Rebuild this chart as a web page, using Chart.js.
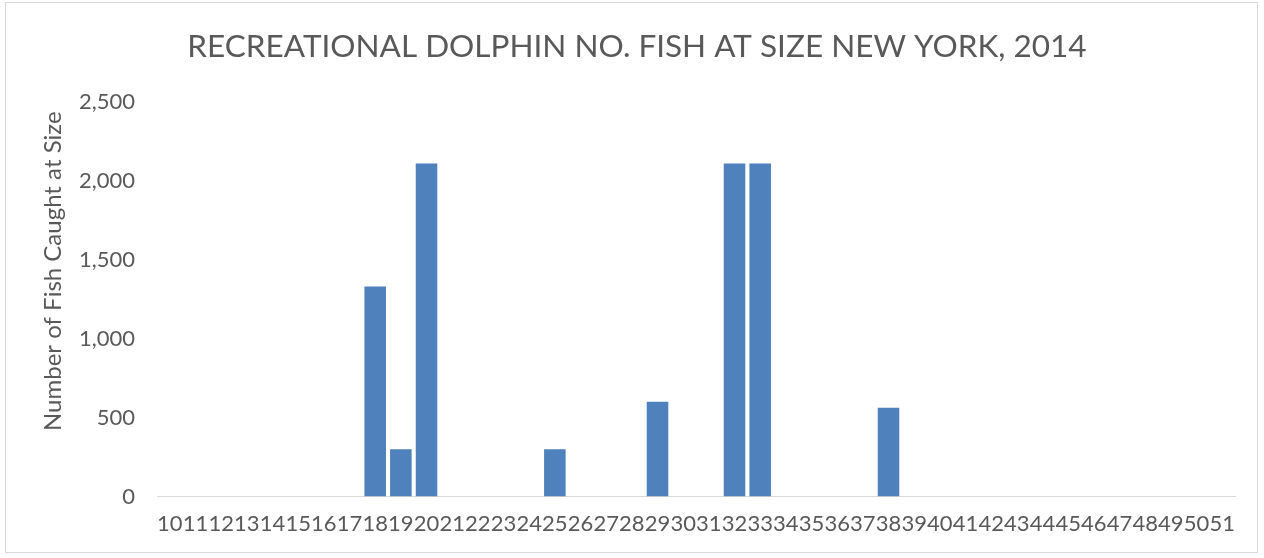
<!DOCTYPE html>
<html>
<head>
<meta charset="utf-8">
<script src="https://cdn.jsdelivr.net/npm/chart.js@4"></script>
<style>
  html, body { margin: 0; padding: 0; background: #fff; }
  #wrap { position: absolute; left: 5px; top: 2px; width: 1253px; height: 551px; border: 1px solid #d9d9d9; box-sizing: border-box; }
  canvas { display: block; }
</style>
</head>
<body>
<div id="wrap"><canvas id="chart"></canvas></div>
<script>
const sizes = [];
for (let s = 10; s <= 51; s++) sizes.push(String(s));

// fish caught at each size (0 where nothing was caught)
const caught = {
  '18': 1330, '19': 300, '20': 2110, '25': 300,
  '29': 600, '32': 2110, '33': 2110, '38': 562
};
const counts = sizes.map(s => caught[s] || 0);

const yTicks = [0, 500, 1000, 1500, 2000, 2500];
const yTitle = 'Number of Fish Caught at Size';

const grey = '#595959';
const font = "Lato, 'Open Sans', sans-serif";

// y title sits a bit above the middle of the plot, like the excel one
const yTitlePlugin = {
  id: 'yTitle',
  afterDraw(chart) {
    const { ctx, chartArea } = chart;
    ctx.save();
    ctx.translate(chartArea.left - 104, (chartArea.top + chartArea.bottom) / 2 - 28);
    ctx.rotate(-Math.PI / 2);
    ctx.font = '24px ' + font;
    ctx.fillStyle = grey;
    ctx.textAlign = 'center';
    ctx.textBaseline = 'middle';
    ctx.fillText(yTitle, 0, 0);
    ctx.restore();
  }
};

new Chart(document.getElementById('chart').getContext('2d'), {
  type: 'bar',
  data: {
    labels: sizes,
    datasets: [{
      data: counts,
      backgroundColor: '#4f81bd',
      borderWidth: 0,
      barPercentage: 0.84,
      categoryPercentage: 1
    }]
  },
  options: {
    responsive: true,
    maintainAspectRatio: false,
    animation: false,
    layout: { padding: { top: 8, right: 22, bottom: 1, left: 33 } },
    plugins: {
      legend: { display: false },
      tooltip: { enabled: false },
      title: {
        display: true,
        text: 'RECREATIONAL DOLPHIN NO. FISH AT SIZE NEW YORK, 2014',
        color: grey,
        font: { family: font, size: 31.5, weight: 'normal' },
        padding: { top: 17, bottom: 36 }
      }
    },
    scales: {
      x: {
        grid: { display: false, drawTicks: false },
        border: { color: '#d9d9d9', width: 1 },
        ticks: {
          color: grey,
          autoSkip: false,
          maxRotation: 0,
          padding: 14,
          font: { family: font, size: 22 }
        }
      },
      y: {
        min: 0,
        max: 2500,
        afterBuildTicks: axis => { axis.ticks = yTicks.map(v => ({ value: v })); },
        afterFit: axis => { axis.width += 18; },
        grid: { display: false, drawTicks: false },
        border: { display: false },
        ticks: {
          color: grey,
          padding: 22,
          font: { family: font, size: 22 },
          callback: v => v.toLocaleString('en-US')
        }
      }
    }
  },
  plugins: [yTitlePlugin]
});
</script>
</body>
</html>
